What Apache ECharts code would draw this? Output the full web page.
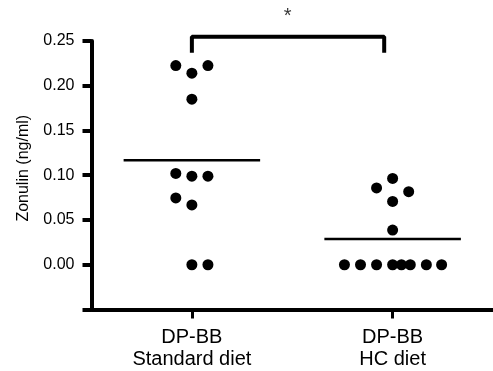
<!DOCTYPE html>
<html>
<head>
<meta charset="utf-8">
<script src="https://cdn.jsdelivr.net/npm/echarts@6/dist/echarts.min.js"></script>
<style>
  html, body { margin: 0; padding: 0; background: #fff; }
  #chart { width: 493px; height: 371px; }
</style>
</head>
<body>
<div id="chart"></div>
<script>
// groups on the x axis (centre positions 0.5 and 1.5)
const groups = ['DP-BB\nStandard diet', 'DP-BB\nHC diet'];
const groupCenters = [0.5, 1.5];

// zonulin values (ng/ml) and the dot column each one sits in
const standardValues = [0.2226, 0.2226, 0.214, 0.185, 0.102, 0.099, 0.099, 0.0746, 0.0668, 0, 0];
const standardCols   = [-1, 1, 0, 0, -1, 0, 1, -1, 0, 0, 1];
const hcValues = [0.0965, 0.0858, 0.0817, 0.0708, 0.0388, 0, 0, 0, 0, 0, 0, 0, 0];
const hcCols   = [0, -1, 1, 0, 0, -3, -2, -1, 0, 0.55, 1.1, 2.1, 3.05];

const yTicks = [-0.05, 0, 0.05, 0.10, 0.15, 0.20, 0.25];
const significance = '*';

const colStep = 0.08;
const meanHalf = 0.34;
const font = "'Liberation Sans', Arial, Helvetica, sans-serif";

const mean = a => a.reduce((s, v) => s + v, 0) / a.length;
const toPoints = (vals, cols, c) => vals.map((v, i) => [c + cols[i] * colStep, v]);
const meanLine = (vals, c) => [[c - meanHalf, mean(vals)], [c + meanHalf, mean(vals)]];

const chart = echarts.init(document.getElementById('chart'));

const lineBase = {
  type: 'line',
  symbol: 'none',
  silent: true,
  clip: false,
  lineStyle: { color: '#000', width: 2.5 }
};

const dots = {
  type: 'scatter',
  symbolSize: 11,
  itemStyle: { color: '#000', opacity: 1 }
};

chart.setOption({
  animation: false,
  grid: { left: 91.5, top: 41, width: 405, height: 268.5 },
  xAxis: {
    type: 'value',
    min: 0,
    max: 2,
    splitLine: { show: false },
    axisLine: { show: true, onZero: false, lineStyle: { color: '#000', width: 4 } },
    axisTick: { show: true, customValues: groupCenters, length: 9, lineStyle: { color: '#000', width: 3 } },
    axisLabel: {
      customValues: groupCenters,
      formatter: v => groups[groupCenters.indexOf(v)] || '',
      margin: 17,
      fontSize: 20,
      lineHeight: 22,
      color: '#000',
      fontFamily: font
    }
  },
  yAxis: {
    type: 'value',
    min: yTicks[0],
    max: yTicks[yTicks.length - 1],
    interval: 0.05,
    name: 'Zonulin (ng/ml)',
    nameLocation: 'middle',
    nameGap: 60,
    nameTextStyle: { fontSize: 16, color: '#000', fontFamily: font, padding: [0, 0, 0, 14] },
    splitLine: { show: false },
    axisLine: { show: true, lineStyle: { color: '#000', width: 4 } },
    axisTick: { show: true, length: 9, lineStyle: { color: '#000', width: 4 } },
    axisLabel: {
      formatter: v => (v < 0 ? '' : v.toFixed(2)),
      margin: 17,
      fontSize: 16,
      color: '#000',
      fontFamily: font
    }
  },
  series: [
    Object.assign({}, dots, { data: toPoints(standardValues, standardCols, groupCenters[0]) }),
    Object.assign({}, dots, { data: toPoints(hcValues, hcCols, groupCenters[1]) }),
    Object.assign({}, lineBase, { data: meanLine(standardValues, groupCenters[0]) }),
    Object.assign({}, lineBase, { data: meanLine(hcValues, groupCenters[1]) }),
    Object.assign({}, lineBase, {
      lineStyle: { color: '#000', width: 4 },
      data: [[0.5, 0.237], [0.5, 0.2548], [1.458, 0.2548], [1.458, 0.237]]
    }),
    {
      type: 'scatter',
      symbolSize: 0,
      clip: false,
      silent: true,
      label: {
        show: true,
        position: 'inside',
        formatter: significance,
        fontSize: 20,
        color: '#000',
        fontFamily: font
      },
      data: [[0.977, 0.2775]]
    }
  ]
});
</script>
</body>
</html>
